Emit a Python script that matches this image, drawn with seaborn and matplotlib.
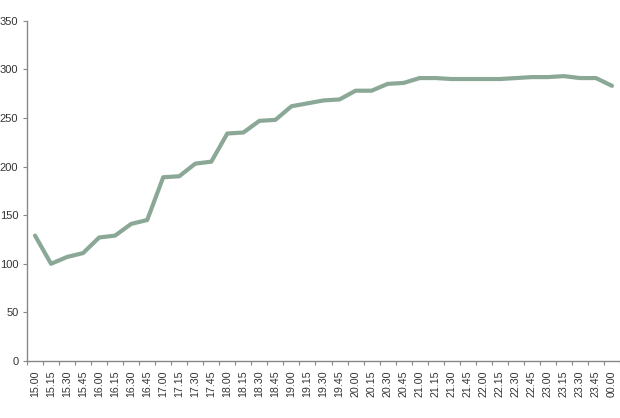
import matplotlib
matplotlib.use("Agg")
import matplotlib.pyplot as plt
import seaborn as sns
import numpy as np
import pandas as pd

times = ["15.00", "15.15", "15.30", "15.45", "16.00", "16.15", "16.30", "16.45",
         "17.00", "17.15", "17.30", "17.45", "18.00", "18.15", "18.30", "18.45",
         "19.00", "19.15", "19.30", "19.45", "20.00", "20.15", "20.30", "20.45",
         "21.00", "21.15", "21.30", "21.45", "22.00", "22.15", "22.30", "22.45",
         "23.00", "23.15", "23.30", "23.45", "00.00"]
values = [129, 100, 107, 111, 127, 129, 141, 145,
          189, 190, 203, 205, 234, 235, 247, 248,
          262, 265, 268, 269, 278, 278, 285, 286,
          291, 291, 290, 290, 290, 290, 291, 292,
          292, 293, 291, 291, 283]
y_ticks = [0, 50, 100, 150, 200, 250, 300, 350]

sns.set_theme(style="white")
plt.rcParams["font.family"] = ["Liberation Sans", "DejaVu Sans"]

df = pd.DataFrame({"pos": np.arange(len(times)), "value": values})

fig = plt.figure(figsize=(6.2, 4.18), dpi=100)
ax = fig.add_axes([27 / 620, 1 - 361 / 418, 1 - 27 / 620, (361 - 20.7) / 418])
sns.lineplot(data=df, x="pos", y="value", ax=ax, color="#8BA897", linewidth=3)

ax.set_xlim(-0.5, len(times) - 0.5)
ax.set_ylim(0, 350)
ax.set_yticks(y_ticks)
ax.set_yticklabels([str(v) for v in y_ticks], fontsize=8, color="#333333")
ax.set_xticks(np.arange(len(times)))
ax.set_xticklabels(times, rotation=90, fontsize=7.7, color="#333333")
ax.set_xticks(np.arange(len(times) + 1) - 0.5, minor=True)
ax.tick_params(axis="x", which="major", length=0, pad=7)
ax.tick_params(axis="x", which="minor", length=3, width=0.8, color="#888888", direction="out", bottom=True)
ax.tick_params(axis="y", length=3, width=0.8, color="#888888", direction="out", left=True, pad=3.2)
ax.set_xlabel("")
ax.set_ylabel("")
for s in ["top", "right"]:
    ax.spines[s].set_visible(False)
for s in ["left", "bottom"]:
    ax.spines[s].set_color("#888888")
    ax.spines[s].set_linewidth(1.0)
ax.grid(False)

fig.savefig("out.png", dpi=100)
